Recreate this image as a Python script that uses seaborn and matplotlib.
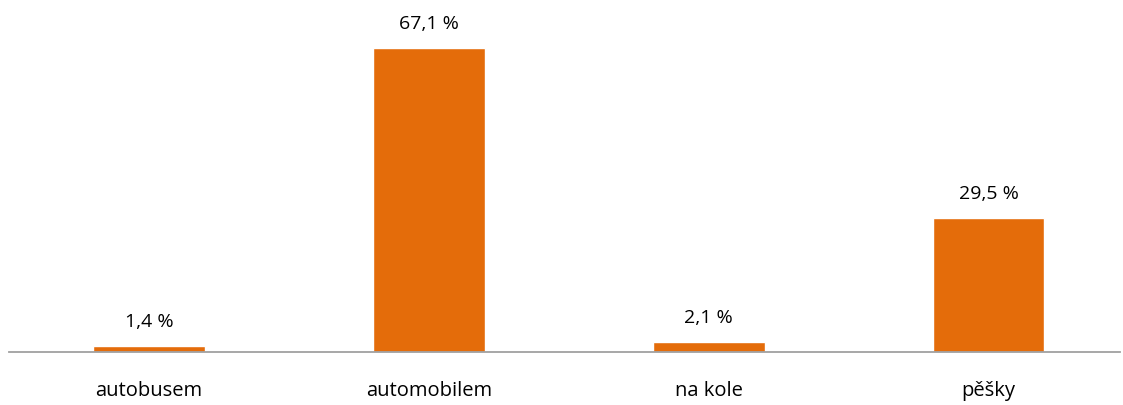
import matplotlib
matplotlib.use("Agg")
import matplotlib.pyplot as plt
import seaborn as sns
import pandas as pd

categories = ["autobusem", "automobilem", "na kole", "pěšky"]
values = [1.4, 67.1, 2.1, 29.5]
value_labels = ["1,4 %", "67,1 %", "2,1 %", "29,5 %"]

sns.set_theme(style="white")
plt.rcParams['font.family'] = ['Open Sans', 'DejaVu Sans']

df = pd.DataFrame({"cat": categories, "val": values})

fig = plt.figure(figsize=(11.23, 4.06), dpi=100)
ax = fig.add_axes([9/1123, 53/406, (1120-9)/1123, (353-13)/406])
sns.barplot(data=df, x="cat", y="val", color="#E46C0A", saturation=1, width=0.4, ax=ax)

for i, (v, lab) in enumerate(zip(values, value_labels)):
    ax.annotate(lab, (i, v), xytext=(0, 14.4), textcoords="offset points",
                ha="center", va="baseline", fontsize=14, color="#000000")

ax.set_xlim(-0.5, 3.47)
ax.set_ylim(0, 75)
ax.set_xlabel("")
ax.set_ylabel("")
ax.set_yticks([])
ax.tick_params(axis="x", length=0, pad=20, labelsize=14.5, labelcolor="#000000")
for s in ["top", "left", "right"]:
    ax.spines[s].set_visible(False)
ax.spines["bottom"].set_color("#A0A0A0")
ax.spines["bottom"].set_linewidth(1.3)

fig.savefig("out.png", dpi=100)
